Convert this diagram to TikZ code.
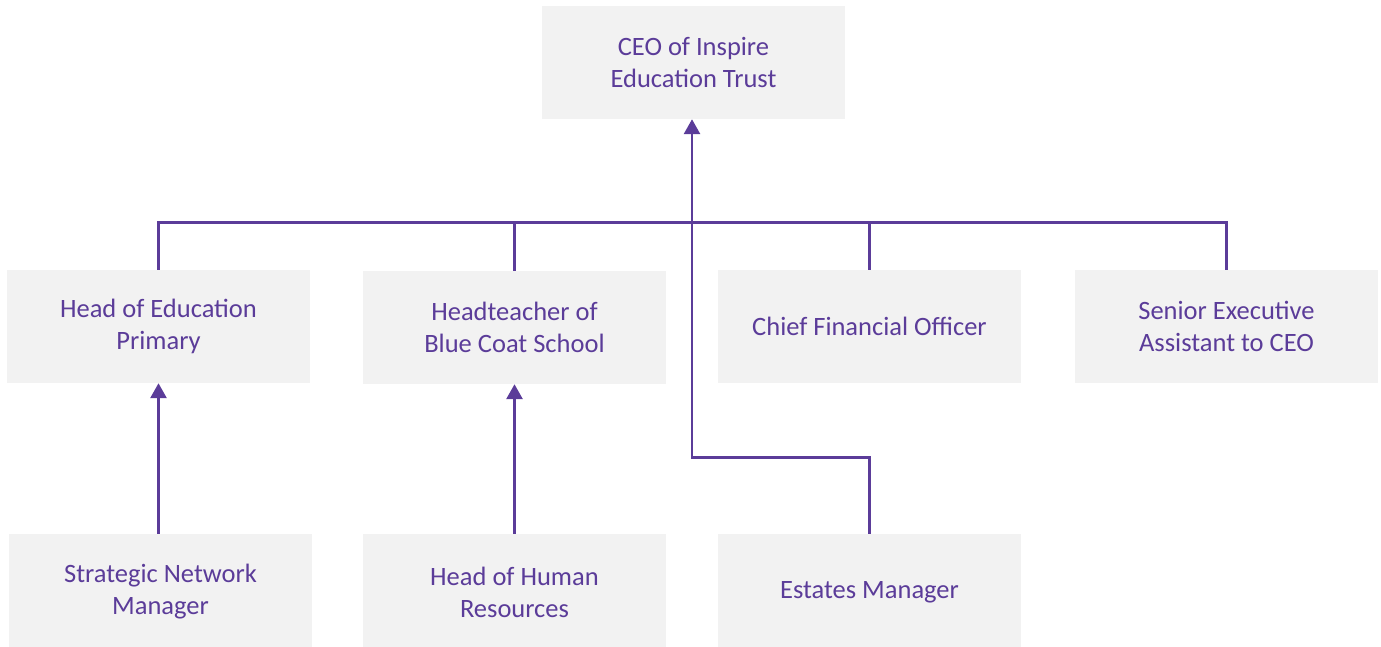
\documentclass[tikz,border=0pt]{standalone}
\usepackage{fontspec}
\setmainfont{Carlito}
\usetikzlibrary{arrows.meta}
\definecolor{boxgray}{HTML}{F2F2F2}
\definecolor{ink}{HTML}{5B3C99}
\begin{document}
\begin{tikzpicture}[x=1pt,y=-1pt,
  orgbox/.style={fill=boxgray,draw=none,inner sep=0pt,minimum width=303pt,minimum height=113pt,
    align=center,text=ink,font=\fontsize{26.5}{32}\selectfont},
  link/.style={draw=ink,line width=2.8pt},
  uparrow/.style={link,-{Triangle[width=16pt,length=15pt]}}]
\useasboundingbox (0,0) rectangle (1381,646);
\node[orgbox] (ceo) at (693.5,62.5) {CEO of Inspire\\Education Trust};
\node[orgbox] (he) at (158.5,326.5) {Head of Education\\Primary};
\node[orgbox] (ht) at (514.5,327.5) {Headteacher of\\Blue Coat School};
\node[orgbox] (cfo) at (869.5,326.5) {Chief Financial Officer};
\node[orgbox] (sea) at (1226.5,326.5) {Senior Executive\\Assistant to CEO};
\node[orgbox,minimum height=116pt] (snm) at (160.5,592) {Strategic Network\\Manager};
\node[orgbox,minimum height=116pt] (hr) at (514.5,592) {Head of Human\\Resources};
\node[orgbox,minimum height=116pt] (em) at (869.5,592) {Estates Manager};
\draw[link] (he.north) -- ++(0,-47) -| (sea.north);
\draw[link] (ht.north) -- ++(0,-48);
\draw[link] (cfo.north) -- ++(0,-47);
\draw[uparrow] (em.north) -- ++(0,-76) -| ([xshift=-1.5pt]ceo.south);
\draw[uparrow] (snm.north -| he.south) -- (he.south);
\draw[uparrow] (hr.north) -- (ht.south);
\end{tikzpicture}
\end{document}
